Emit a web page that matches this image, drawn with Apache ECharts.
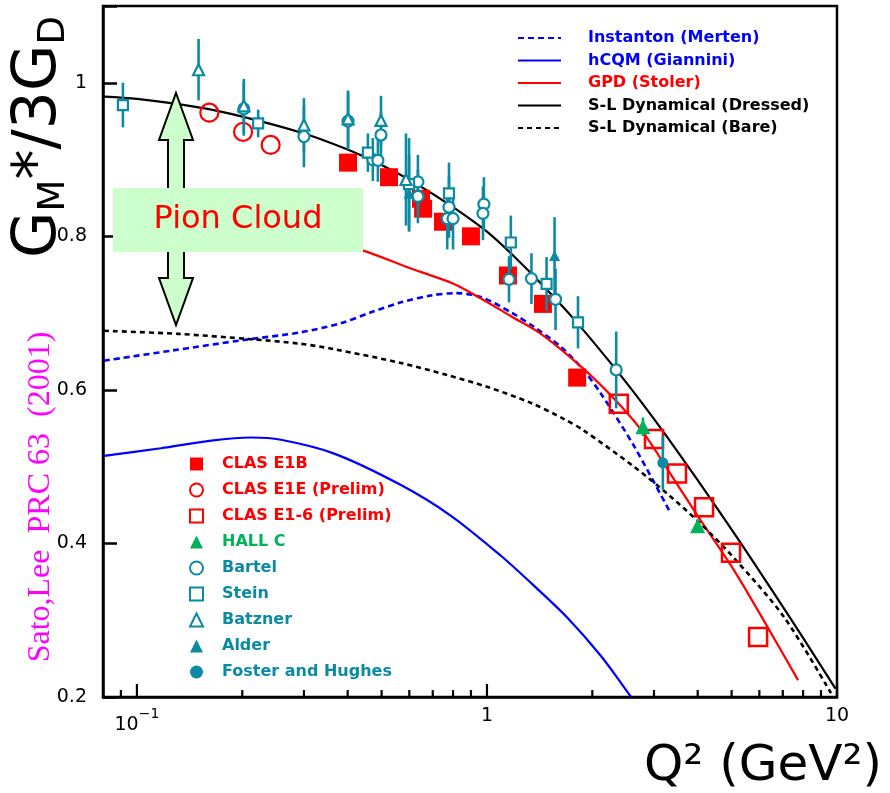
<!DOCTYPE html>
<html><head><meta charset="utf-8">
<script src="https://cdn.jsdelivr.net/npm/echarts@6/dist/echarts.min.js"></script>
<style>html,body{margin:0;padding:0;background:#fff}#c{width:890px;height:793px}</style>
</head><body><div id="c"></div>
<script>
// ---- axis ticks ----
const xMajorTicks = [0.1, 1, 10];
const xMinorTicks = [0.09, 0.2, 0.3, 0.4, 0.5, 0.6, 0.7, 0.8, 0.9, 2, 3, 4, 5, 6, 7, 8, 9];
const yTicks = [0.2, 0.4, 0.6, 0.8, 1];

// ---- theory curves [Q2, GM*/3GD] ----
const instanton = [[0.0805,0.638],[0.125,0.651],[0.202,0.665],[0.294,0.675],[0.383,0.687],[0.466,0.701],[0.568,0.714],[0.692,0.723],[0.815,0.726],[0.961,0.721],[1.171,0.701],[1.362,0.682],[1.627,0.656],[1.892,0.625],[2.117,0.595],[2.63,0.527],[3.35,0.439]];
const hcqm = [[0.0805,0.514],[0.117,0.524],[0.163,0.534],[0.212,0.538],[0.258,0.535],[0.366,0.517],[0.568,0.476],[0.789,0.436],[1.096,0.384],[1.34,0.348],[1.70,0.303],[2.12,0.253],[2.58,0.2]];
const gpd = [[0.294,0.804],[0.445,0.781],[0.607,0.758],[0.805,0.738],[0.961,0.719],[1.171,0.696],[1.426,0.673],[1.892,0.627],[2.38,0.582],[2.81,0.543],[3.35,0.490],[4.0,0.436],[5.08,0.365],[6.28,0.294],[7.74,0.222]];
const dressed = [[0.0805,0.982],[0.1,0.979],[0.15,0.968],[0.2,0.956],[0.3,0.934],[0.4,0.913],[0.5,0.893],[0.62,0.870],[0.8,0.838],[1.0,0.806],[1.2,0.773],[1.5,0.728],[1.82,0.686],[2.34,0.626],[2.88,0.573],[3.5,0.520],[4.45,0.452],[5.3,0.401],[6.35,0.347],[8.0,0.277],[9.9,0.211]];
const bare = [[0.0805,0.677],[0.131,0.673],[0.212,0.666],[0.294,0.660],[0.366,0.653],[0.568,0.635],[0.774,0.619],[1.0,0.604],[1.336,0.583],[1.66,0.562],[1.892,0.547],[2.63,0.500],[3.29,0.464],[4.09,0.425],[5.08,0.381],[7.06,0.304],[9.61,0.205]];

// ---- data points [Q2, value, error] ----
const clasE1B = [[0.401,0.896],[0.525,0.877],[0.648,0.849],[0.657,0.836],[0.749,0.819],[0.90,0.800],[1.148,0.749],[1.445,0.712],[1.81,0.616]];
const clasE1E = [[0.161,0.961],[0.201,0.936],[0.241,0.919]];
const clasE16 = [[2.38,0.582],[3.0,0.536],[3.49,0.491],[4.17,0.447],[4.98,0.388],[5.95,0.278]];
const hallC = [[2.79,0.552,0.012],[4.0,0.423,0.008]];
const bartel = [[0.202,0.966,0.035],[0.300,0.930,0.040],[0.401,0.950,0.037],[0.498,0.932,0.030],[0.472,0.900,0.028],[0.488,0.899,0.028],[0.635,0.871,0.035],[0.635,0.852,0.035],[0.779,0.838,0.040],[0.77,0.823,0.040],[0.80,0.823,0.040],[0.98,0.842,0.035],[0.974,0.830,0.035],[1.156,0.744,0.030],[1.34,0.745,0.033],[1.57,0.718,0.040],[2.34,0.626,0.050]];
const stein = [[0.0912,0.971,0.029],[0.222,0.947,0.018],[0.457,0.909,0.025],[0.599,0.868,0.060],[0.779,0.856,0.040],[1.17,0.792,0.035],[1.48,0.738,0.035],[1.82,0.688,0.034]];
const batzner = [[0.150,1.017,0.040],[0.202,0.970,0.035],[0.300,0.945,0.035],[0.401,0.953,0.037],[0.498,0.951,0.032],[0.587,0.874,0.060]];
const alder = [[0.599,0.856,0.050],[1.56,0.775,0.050]];
const foster = [[3.18,0.505,0.035]];

const RED = '#ff0000', TEAL = '#0b8aa4', GREEN = '#00b35a', BLUE = '#0000ff', BLACK = '#000000';
const FONT = 'DejaVu Sans';
const NONE = 'rgba(0,0,0,0)';

function errSeries(name, arr, color, z) {
  return {
    type: 'custom', name: name, z: z, silent: true,
    data: arr.map(d => [d[0], d[1] - d[2], d[1] + d[2]]),
    encode: { x: 0, y: [1, 2] },
    renderItem: function (params, api) {
      const a = api.coord([api.value(0), api.value(1)]);
      const b = api.coord([api.value(0), api.value(2)]);
      return { type: 'line', shape: { x1: a[0], y1: a[1], x2: b[0], y2: b[1] },
               style: { stroke: color, lineWidth: 2.6 } };
    }
  };
}
function scat(name, arr, symbol, size, fill, stroke, bw, z) {
  return {
    type: 'scatter', name: name, z: z, symbol: symbol, symbolSize: size,
    data: arr.map(d => [d[0], d[1]]),
    itemStyle: { color: fill, borderColor: stroke, borderWidth: bw, opacity: 1 },
    emphasis: { disabled: true }
  };
}
function curve(name, arr, color, width, dash) {
  return {
    type: 'line', name: name, data: arr, symbol: 'none', smooth: 0.3, z: 2,
    lineStyle: { color: color, width: width, type: dash || 'solid' },
    itemStyle: { color: color }, emphasis: { disabled: true }
  };
}

const yMin = yTicks[0];
const tickData = xMajorTicks.map(v => [v, yMin, 1]).concat(xMinorTicks.map(v => [v, yMin, 0]));

const chart = echarts.init(document.getElementById('c'));
chart.setOption({
  animation: false,
  backgroundColor: '#fff',
  grid: { left: 103, right: 53, top: 6, bottom: 96, show: true, borderColor: '#000', borderWidth: 2.5 },
  xAxis: {
    type: 'log', logBase: 10, min: 0.08, max: 10,
    axisLine: { lineStyle: { color: '#000', width: 2.5 } },
    axisTick: { show: false }, splitLine: { show: false }, minorTick: { show: false },
    axisLabel: {
      color: '#000', fontFamily: FONT, fontSize: 19, margin: 10, showMinLabel: true, showMaxLabel: true,
      formatter: function (v) {
        const l = Math.log10(v);
        if (Math.abs(l - Math.round(l)) > 1e-6) return '';
        const e = Math.round(l);
        if (e === 0) return '1';
        if (e === 1) return '10';
        if (e === -1) return '{n|10}{s|−1}';
        return '';
      },
      rich: { n: { fontSize: 19, fontFamily: FONT, lineHeight: 28, verticalAlign: 'bottom' },
              s: { fontSize: 14, fontFamily: FONT, lineHeight: 14, verticalAlign: 'top' } }
    }
  },
  yAxis: {
    type: 'value', min: 0.2, max: 1.1, interval: 0.2,
    axisLine: { lineStyle: { color: '#000', width: 2.5 } },
    axisTick: { inside: true, length: 14, lineStyle: { color: '#000', width: 2.5 } },
    splitLine: { show: false },
    axisLabel: {
      color: '#000', fontFamily: FONT, fontSize: 19, margin: 16,
      formatter: function (v) { if (v > 1.05) return ''; if (Math.abs(v - 1) < 1e-9) return '1'; return v.toFixed(1); }
    }
  },
  legend: [
    {
      orient: 'vertical', left: 512, top: 25, itemWidth: 43, itemHeight: 14, itemGap: 6.5, selectedMode: false,
      itemStyle: { color: NONE, borderColor: NONE, borderWidth: 0 },
      textStyle: { fontFamily: FONT, fontSize: 16, fontWeight: 'bold', padding: [0, 0, 0, 22] },
      data: [
        { name: 'Instanton (Merten)', textStyle: { color: BLUE } },
        { name: 'hCQM (Giannini)', textStyle: { color: BLUE } },
        { name: 'GPD (Stoler)', textStyle: { color: RED } },
        { name: 'S-L Dynamical (Dressed)', textStyle: { color: BLACK } },
        { name: 'S-L Dynamical (Bare)', textStyle: { color: BLACK } }
      ]
    },
    {
      orient: 'vertical', left: 184, top: 451, itemWidth: 13, itemHeight: 13, itemGap: 10, selectedMode: false,
      textStyle: { fontFamily: FONT, fontSize: 16, fontWeight: 'bold', padding: [0, 0, 0, 14] },
      data: [
        { name: 'CLAS E1B', textStyle: { color: RED } },
        { name: 'CLAS E1E (Prelim)', textStyle: { color: RED } },
        { name: 'CLAS E1-6 (Prelim)', textStyle: { color: RED } },
        { name: 'HALL C', textStyle: { color: GREEN } },
        { name: 'Bartel', textStyle: { color: TEAL } },
        { name: 'Stein', textStyle: { color: TEAL } },
        { name: 'Batzner', textStyle: { color: TEAL } },
        { name: 'Alder', textStyle: { color: TEAL } },
        { name: 'Foster and Hughes', textStyle: { color: TEAL } }
      ]
    }
  ],
  graphic: [
    { type: 'polygon', z: 100,
      shape: { points: [[176,93],[193,140],[184,140],[184,278],[193,278],[176,325],[159,278],[168,278],[168,140],[159,140]] },
      style: { fill: '#ccffcc', stroke: '#000', lineWidth: 2 } },
    { type: 'rect', z: 101, shape: { x: 113, y: 188, width: 250, height: 64 }, style: { fill: '#ccffcc' } },
    { type: 'text', z: 102, x: 238, y: 220,
      style: { text: 'Pion Cloud', fill: RED, font: '32px "DejaVu Sans"', align: 'center', verticalAlign: 'middle' } },
    { type: 'text', z: 102, x: 41, y: 137, rotation: Math.PI / 2,
      style: { text: '{g|G}{s|M}{g|*/3G}{s|D}', align: 'center', verticalAlign: 'middle', fill: '#000',
        rich: { g: { fontSize: 60, fontFamily: FONT, lineHeight: 64, verticalAlign: 'top', fill: '#000' },
                s: { fontSize: 37, fontFamily: FONT, lineHeight: 37, verticalAlign: 'bottom', fill: '#000' } } } },
    { type: 'text', z: 102, x: 41, y: 497, rotation: Math.PI / 2,
      style: { text: 'Sato,Lee  PRC 63  (2001)', fill: '#ff00ff', font: '32px "Liberation Serif"', align: 'center', verticalAlign: 'middle' } },
    { type: 'text', z: 102, x: 763, y: 767,
      style: { text: 'Q² (GeV²)', fill: '#000', font: '50px "DejaVu Sans"', align: 'center', verticalAlign: 'middle' } }
  ],
  series: [
    { type: 'custom', name: 'xticks', silent: true, z: 5, data: tickData, encode: { x: 0, y: 1 },
      renderItem: function (params, api) {
        const p = api.coord([api.value(0), api.value(1)]);
        const len = api.value(2) ? 13 : 7;
        return { type: 'line', shape: { x1: p[0], y1: p[1], x2: p[0], y2: p[1] - len },
                 style: { stroke: '#000', lineWidth: 2.2 } };
      } },
    curve('Instanton (Merten)', instanton, BLUE, 2.6, [6, 4]),
    curve('hCQM (Giannini)', hcqm, BLUE, 2.2),
    curve('GPD (Stoler)', gpd, RED, 2.2),
    curve('S-L Dynamical (Dressed)', dressed, BLACK, 2.2),
    curve('S-L Dynamical (Bare)', bare, BLACK, 2.6, [5, 4]),
    scat('CLAS E1B', clasE1B, 'rect', 18, RED, RED, 0, 3),
    scat('CLAS E1E (Prelim)', clasE1E, 'circle', 18, NONE, RED, 2.2, 3),
    scat('CLAS E1-6 (Prelim)', clasE16, 'rect', 18, NONE, RED, 2.5, 3),
    errSeries('hallC-err', hallC, GREEN, 3),
    scat('HALL C', hallC, 'triangle', 15, GREEN, GREEN, 0, 4),
    errSeries('bartel-err', bartel, TEAL, 4),
    errSeries('stein-err', stein, TEAL, 4),
    errSeries('batzner-err', batzner, TEAL, 4),
    errSeries('alder-err', alder, TEAL, 4),
    errSeries('foster-err', foster, TEAL, 4),
    scat('Bartel', bartel, 'circle', 11, '#fff', TEAL, 2.2, 5),
    scat('Stein', stein, 'rect', 10, '#fff', TEAL, 2.2, 5),
    scat('Batzner', batzner, 'triangle', 11, '#fff', TEAL, 2.2, 5),
    scat('Alder', alder, 'triangle', 11, TEAL, TEAL, 0, 5),
    scat('Foster and Hughes', foster, 'circle', 11, TEAL, TEAL, 0, 5)
  ]
});
</script></body></html>
